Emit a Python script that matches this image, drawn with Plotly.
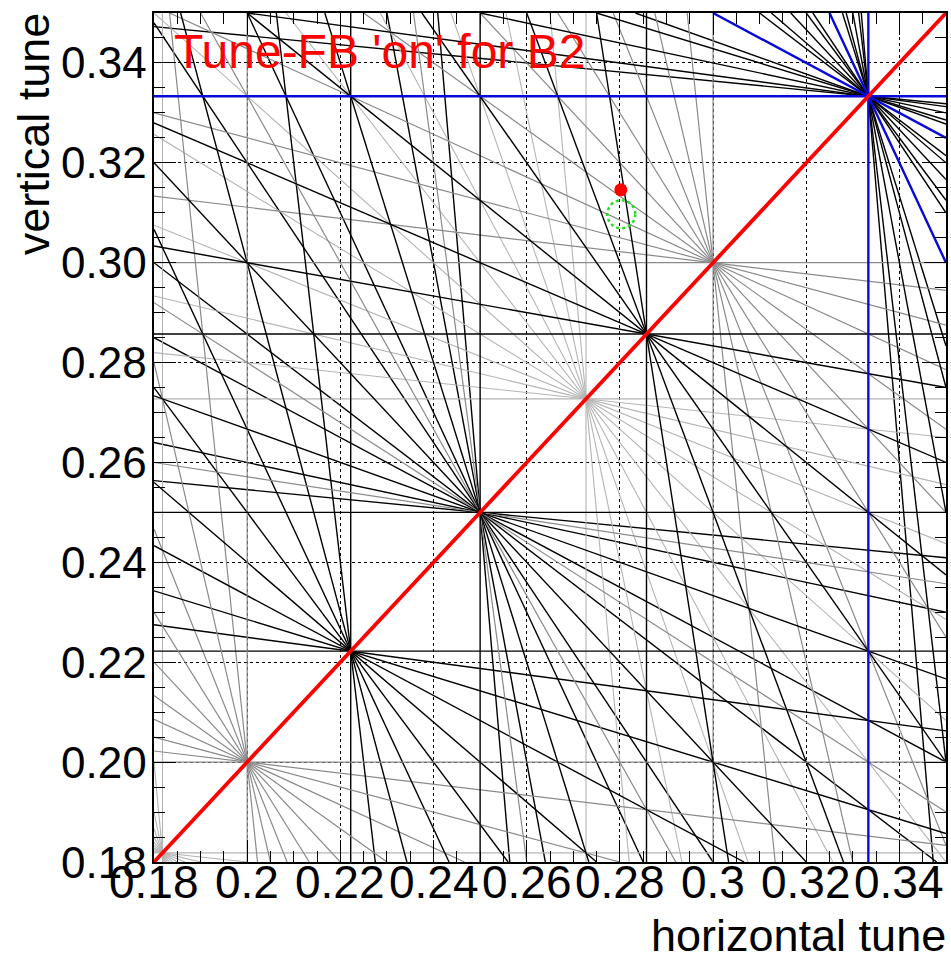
import math
import plotly.graph_objects as go

# ---------------- data ----------------
tune_range = [0.18, 0.35]
resonance_orders = [12, 11, 10, 9, 8, 7, 6, 5, 4, 3]   # drawn high -> low order
x_tick_values = [0.18, 0.20, 0.22, 0.24, 0.26, 0.28, 0.30, 0.32, 0.34]
x_tick_labels = ["0.18", "0.2", "0.22", "0.24", "0.26", "0.28", "0.3", "0.32", "0.34"]
y_tick_values = [0.18, 0.20, 0.22, 0.24, 0.26, 0.28, 0.30, 0.32, 0.34]
y_tick_labels = ["0.18", "0.20", "0.22", "0.24", "0.26", "0.28", "0.30", "0.32", "0.34"]
minor_tick_step = 0.005
diagonal_qh = [0.18, 0.35]
diagonal_qv = [0.18, 0.35]
measured_qh = [0.2802]
measured_qv = [0.3146]
target_qh = [0.2803]
target_qv = [0.3097]
title_text = "Tune-FB 'on' for B2"
x_title = "horizontal tune"
y_title = "vertical tune"

# ---------------- styles ----------------
ORDER_STYLE = {
    3: ("#0a0ad8", 2.4),
    4: ("#000000", 1.4),
    5: ("#8a8a8a", 1.2),
    6: ("#000000", 1.4),
    7: ("#000000", 1.4),
    8: ("#8a8a8a", 1.2),
    9: ("#000000", 1.4),
    10: ("#8a8a8a", 1.2),
    11: ("#b4b4b4", 1.1),
    12: ("#000000", 1.4),
}
FONT = "Liberation Sans, Arial, Helvetica, sans-serif"
X_TICK_FONT = dict(size=46, family=FONT, color="black")
Y_TICK_FONT = dict(size=44, family=FONT, color="black")


def clip_line(m, n, p, lo, hi):
    eps = 1e-12
    if n == 0:
        x = p / m
        return [(x, lo), (x, hi)] if lo - eps <= x <= hi + eps else None
    if m == 0:
        y = p / n
        return [(lo, y), (hi, y)] if lo - eps <= y <= hi + eps else None
    pts = []
    for x in (lo, hi):
        y = (p - m * x) / n
        if lo - eps <= y <= hi + eps:
            pts.append((x, y))
    for y in (lo, hi):
        x = (p - n * y) / m
        if lo - eps <= x <= hi + eps:
            pts.append((x, y))
    if len(pts) < 2:
        return None
    pts.sort()
    a, b = pts[0], pts[-1]
    if abs(a[0] - b[0]) < 1e-12 and abs(a[1] - b[1]) < 1e-12:
        return None
    return [a, b]


def resonance_lines(order, lo, hi):
    xs, ys = [], []
    pmin = math.ceil(order * lo - 1e-9)
    pmax = math.floor(order * hi + 1e-9)
    for m in range(order + 1):
        n = order - m
        for p in range(pmin, pmax + 1):
            if math.gcd(math.gcd(m, n), p) != 1:
                continue
            seg = clip_line(m, n, p, lo, hi)
            if seg:
                xs += [seg[0][0], seg[1][0], None]
                ys += [seg[0][1], seg[1][1], None]
    return xs, ys


fig = go.Figure()
lo, hi = tune_range
for order in resonance_orders:
    xs, ys = resonance_lines(order, lo, hi)
    color, width = ORDER_STYLE[order]
    fig.add_trace(go.Scatter(x=xs, y=ys, mode="lines",
                             line=dict(color=color, width=width),
                             hoverinfo="skip", showlegend=False))

fig.add_trace(go.Scatter(x=diagonal_qh, y=diagonal_qv, mode="lines",
                         line=dict(color="#ff0000", width=3.8),
                         hoverinfo="skip", showlegend=False))

fig.add_trace(go.Scatter(x=measured_qh, y=measured_qv, mode="markers",
                         marker=dict(color="#ff0000", size=13, symbol="circle"),
                         showlegend=False))

for qh, qv in zip(target_qh, target_qv):
    fig.add_shape(type="circle", xref="x", yref="y",
                  xsizemode="pixel", ysizemode="pixel",
                  xanchor=qh, yanchor=qv, x0=-14, x1=14, y0=-14, y1=14,
                  line=dict(color="#22dd22", width=2.5, dash="3px,3px"))

axis_common = dict(
    range=tune_range, tickmode="array", ticks="inside", ticklen=22,
    tickwidth=1, tickcolor="black", showline=True, linecolor="black",
    linewidth=1.5, mirror="allticks", showgrid=True, gridcolor="black",
    griddash="dot", gridwidth=1, zeroline=False, showticklabels=False,
    minor=dict(dtick=minor_tick_step, tick0=lo, ticks="inside", ticklen=11,
               tickcolor="black", tickwidth=1, showgrid=False),
)
fig.update_xaxes(tickvals=x_tick_values, **axis_common)
fig.update_yaxes(tickvals=y_tick_values, **axis_common)

# tick labels placed through the axis scales
for v, lab in zip(x_tick_values, x_tick_labels):
    fig.add_annotation(text=lab, xref="x", yref="paper", x=v, y=0.009,
                       xanchor="center", yanchor="top", showarrow=False,
                       font=X_TICK_FONT)
for v, lab in zip(y_tick_values, y_tick_labels):
    fig.add_annotation(text=lab, xref="paper", yref="y", x=-0.006, y=v,
                       xanchor="right", yanchor="middle", showarrow=False,
                       font=Y_TICK_FONT)

fig.add_annotation(text=title_text, xref="paper", yref="paper", x=0.023, y=0.988,
                   xanchor="left", yanchor="top", showarrow=False,
                   font=dict(size=48, color="#ff0000", family=FONT))
fig.add_annotation(text=x_title, xref="paper", yref="paper", x=1.003, y=-0.119,
                   xanchor="right", yanchor="bottom", showarrow=False,
                   font=dict(size=45, color="black", family=FONT))
fig.add_annotation(text=y_title, xref="paper", yref="paper", x=-0.151, y=1.003,
                   xanchor="center", yanchor="top", textangle=-90, showarrow=False,
                   font=dict(size=45, color="black", family=FONT))

fig.update_layout(width=951, height=961,
                  margin=dict(l=154, r=3, t=13, b=99, pad=0),
                  plot_bgcolor="white", paper_bgcolor="white",
                  showlegend=False, font=dict(family=FONT, color="black"))

fig.write_html("out.html")
